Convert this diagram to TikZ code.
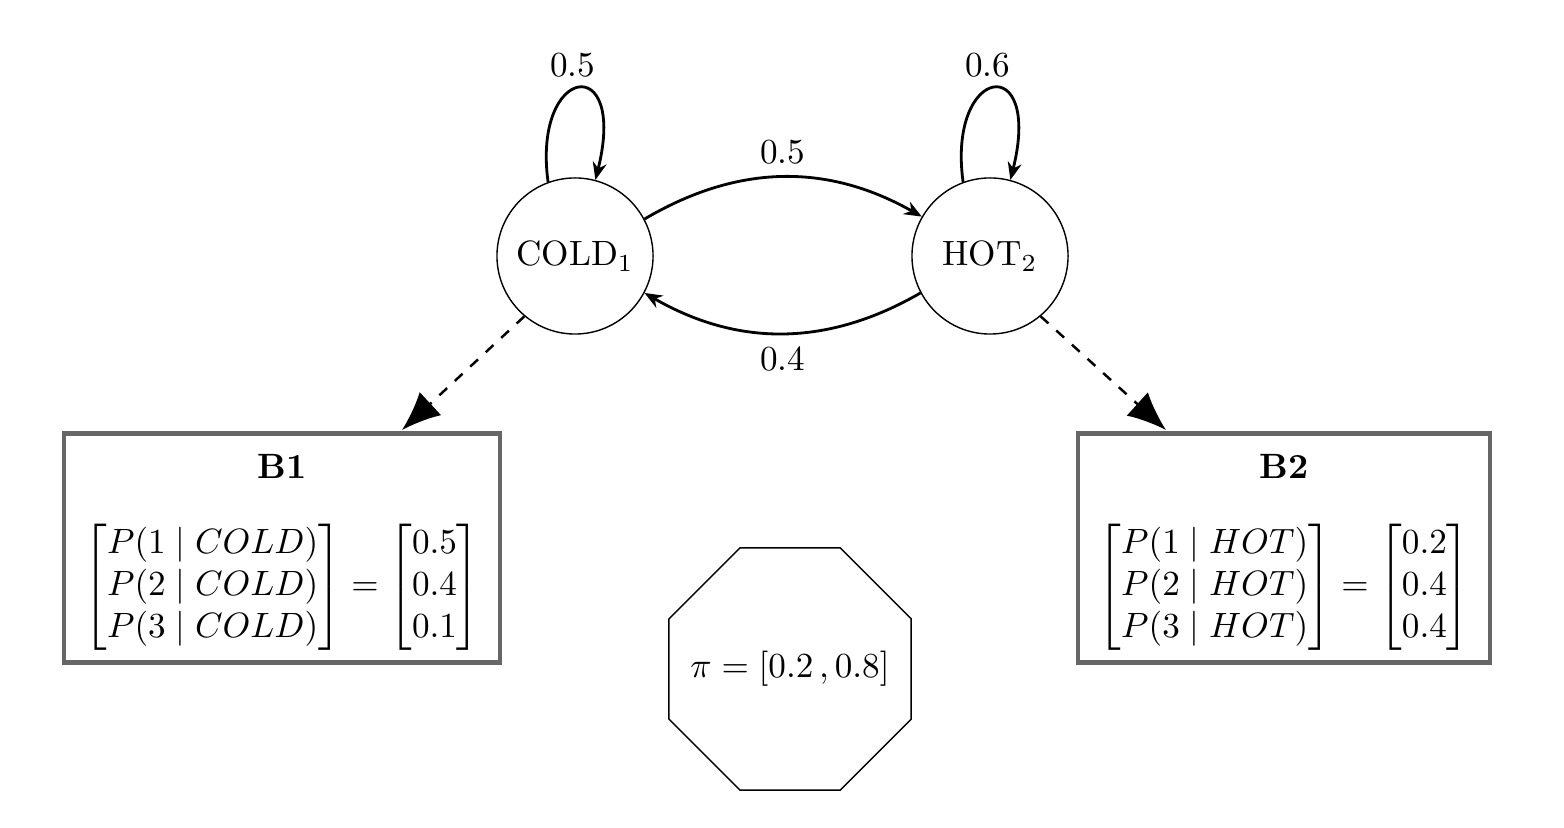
\documentclass[tikz,border=0pt]{standalone}
\usepackage{amsmath}
\usetikzlibrary{shapes.geometric,arrows.meta}
\begin{document}
\begin{tikzpicture}[x=0.01cm,y=-0.01cm,
 st/.style={circle,draw,inner sep=0pt,minimum size=1.56cm},
 tr/.style={-{Stealth[length=5pt,width=4pt]},line width=0.8pt},
 em/.style={-{Latex[length=11pt,width=9pt]},dashed,line width=0.7pt},
 bx/.style={draw=black!60,line width=1.3pt,minimum height=2.29cm,inner sep=0pt}]
\useasboundingbox (0,0) rectangle (1564,828);
\node[st] (c) at (575,256) {COLD$_1$};
\node[st] (h) at (990,256) {HOT$_2$};
\draw[tr] (c.110) .. controls (532,65) and (628,50) .. node[above,pos=0.45]{0.5} (c.75);
\draw[tr] (h.110) .. controls (947,65) and (1043,50) .. node[above,pos=0.45]{0.6} (h.75);
\draw[tr] (c.28) to[bend left=30] node[above]{0.5} (h.150);
\draw[tr] (h.208) to[bend left=30] node[below]{0.4} (c.332);
\node[bx,minimum width=4.36cm] (b1) at (282,548) {};
\node[bx,minimum width=4.12cm] (b2) at (1284,548) {};
\node[anchor=north] (t1) at (282,442) {\textbf{B1}};
\node (m1) at (282,587) {$\begin{bmatrix}P(1\mid COLD)\\P(2\mid COLD)\\P(3\mid COLD)\end{bmatrix}=\begin{bmatrix}0.5\\0.4\\0.1\end{bmatrix}$};
\node[anchor=north] (t2) at (1284,442) {\textbf{B2}};
\node (m2) at (1284,587) {$\begin{bmatrix}P(1\mid HOT)\\P(2\mid HOT)\\P(3\mid HOT)\end{bmatrix}=\begin{bmatrix}0.2\\0.4\\0.4\end{bmatrix}$};
\node[regular polygon,regular polygon sides=8,draw,minimum size=2.62cm,inner sep=0pt] (pi) at (790,669) {};
\node (pit) at (pi.center) {$\pi=[0.2\,,0.8]$};
\coordinate (e1) at (402,430);
\coordinate (e2) at (1166,430);
\draw[em] (c.230) -- (e1);
\draw[em] (h.310) -- (e2);
\end{tikzpicture}
\end{document}
